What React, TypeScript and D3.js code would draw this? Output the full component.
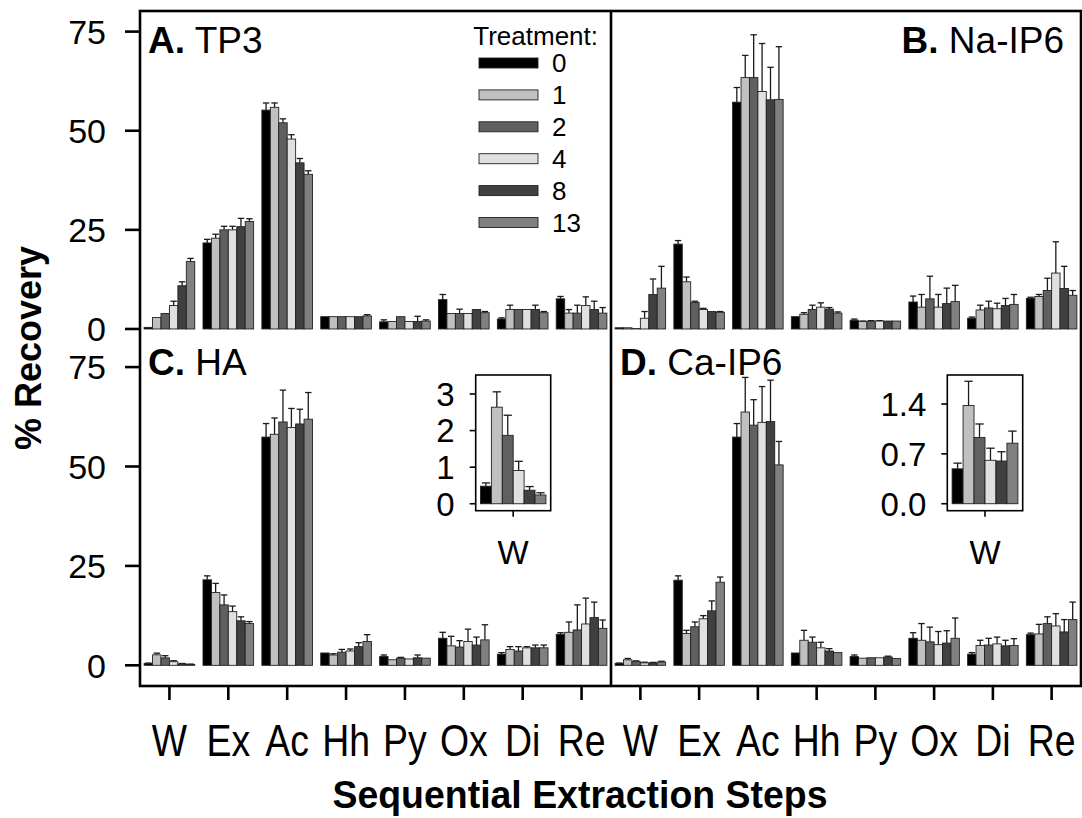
import React from 'react';
import * as d3 from 'd3';

// Extraction steps and treatment levels
const steps = ['W', 'Ex', 'Ac', 'Hh', 'Py', 'Ox', 'Di', 'Re'];
const treatments = ['0', '1', '2', '4', '8', '13'];
const treatmentFill = ['#000000', '#c0c0c0', '#606060', '#e0e0e0', '#404040', '#808080'];
const recoveryTicks = [0, 25, 50, 75];

// % recovery (mean) and upper error, rows = steps, columns = treatments
const tp3Mean = [
  [0.4, 2.9, 3.9, 5.9, 10.9, 17.0],
  [21.7, 22.9, 25.0, 25.0, 25.8, 27.1],
  [55.2, 55.9, 52.0, 47.9, 41.9, 39.0],
  [3.1, 3.1, 3.1, 3.1, 3.1, 3.3],
  [1.8, 1.9, 3.1, 1.9, 1.9, 2.0],
  [7.4, 3.9, 3.9, 3.9, 4.9, 4.1],
  [2.5, 4.9, 4.9, 4.9, 4.9, 4.1],
  [7.6, 4.0, 4.0, 5.9, 4.9, 4.0],
];
const tp3Err = [
  [0, 0, 0, 1.1, 1.0, 0.8],
  [0.9, 1.0, 0.9, 0.9, 2.1, 0.7],
  [1.8, 1.1, 1.0, 1.1, 1.1, 0.9],
  [0, 0, 0, 0, 0, 0.3],
  [0.5, 0, 0, 0, 1.3, 0.3],
  [1.3, 0, 1.1, 0, 0, 0.3],
  [0.3, 1.1, 0, 0, 1.1, 0.3],
  [0.6, 0.9, 2.0, 2.2, 2.1, 1.4],
];

const naMean = [
  [0.3, 0.3, 0.1, 2.7, 8.7, 10.3],
  [21.4, 11.9, 6.7, 4.9, 4.4, 4.2],
  [57.2, 63.4, 63.4, 59.9, 57.8, 57.9],
  [3.1, 3.7, 4.9, 5.5, 5.0, 4.0],
  [2.2, 1.9, 2.0, 2.0, 2.0, 2.0],
  [6.8, 5.5, 7.6, 5.5, 6.4, 6.9],
  [2.7, 4.8, 5.3, 5.1, 5.9, 6.2],
  [7.7, 8.2, 9.7, 14.1, 10.2, 8.5],
];
const naErr = [
  [0, 0, 0, 1.7, 3.9, 5.5],
  [0.9, 1.2, 0.3, 0.3, 0, 0.2],
  [3.7, 5.6, 10.8, 12.1, 8.2, 13.3],
  [0, 0.4, 1.1, 1.1, 0.4, 0.3],
  [0.3, 0.1, 0.1, 0.1, 0, 0],
  [1.5, 3.2, 5.7, 3.2, 3.9, 4.1],
  [0.3, 1.2, 1.7, 1.4, 1.8, 2.5],
  [0.3, 0.5, 3.1, 7.9, 5.6, 1.2],
];

const haMean = [
  [0.48, 2.64, 1.87, 0.91, 0.37, 0.24],
  [21.5, 18.3, 15.2, 13.5, 11.2, 10.5],
  [57.4, 58.1, 61.2, 59.8, 60.7, 61.9],
  [3.1, 2.6, 3.3, 3.6, 4.7, 6.0],
  [2.2, 1.4, 1.8, 1.6, 1.9, 1.8],
  [6.8, 4.9, 4.6, 6.0, 5.1, 6.4],
  [2.8, 4.0, 3.6, 4.4, 4.4, 4.4],
  [7.8, 8.3, 8.9, 10.4, 12.0, 9.3],
];
const haErr = [
  [0.09, 0.42, 0.55, 0.25, 0.1, 0.06],
  [1.0, 2.3, 2.5, 1.4, 1.0, 0.5],
  [3.4, 4.1, 8.0, 4.8, 3.7, 6.7],
  [0, 0.3, 0.7, 0.5, 1.0, 1.7],
  [0.4, 0, 0.2, 0, 0.7, 0],
  [1.5, 2.4, 1.6, 3.1, 2.0, 3.8],
  [0.4, 0.7, 1.1, 0.3, 0.7, 0.7],
  [0.4, 2.6, 6.3, 6.5, 3.9, 2.1],
];

const caMean = [
  [0.49, 1.38, 0.93, 0.61, 0.6, 0.85],
  [21.4, 8.0, 9.7, 11.7, 13.7, 20.9],
  [57.4, 63.7, 60.4, 61.1, 61.3, 50.4],
  [3.1, 6.3, 5.8, 4.4, 3.6, 3.2],
  [2.2, 1.8, 1.9, 1.9, 2.1, 1.7],
  [6.8, 6.3, 5.9, 5.2, 5.6, 6.8],
  [2.8, 5.0, 5.1, 5.4, 4.9, 5.0],
  [7.7, 7.9, 10.5, 9.9, 8.4, 11.5],
];
const caErr = [
  [0.08, 0.34, 0.19, 0.17, 0.13, 0.17],
  [1.1, 0.8, 1.2, 0.8, 2.5, 1.3],
  [3.4, 8.7, 6.4, 9.0, 10.4, 5.9],
  [0, 2.5, 1.3, 1.4, 0.6, 0],
  [0.4, 0, 0, 0, 0.2, 0],
  [1.4, 4.2, 3.7, 3.3, 3.1, 5.1],
  [0.4, 1.3, 1.7, 1.7, 1.4, 1.7],
  [0.4, 2.4, 1.7, 3.1, 3.1, 4.4],
];

// Inset axis ticks for the water (W) step
const haInsetTicks = [0, 1, 2, 3];
const caInsetTicks = [0, 0.7, 1.4];

const FONT = "'Liberation Sans', Arial, Helvetica, sans-serif";
const WIDTH = 1082;
const HEIGHT = 818;

const frame = { left: 140, right: 1081, top: 11, bottom: 686, mid: 611, midY: 348 };

type BarsProps = {
  x: d3.ScaleBand<string>;
  y: d3.ScaleLinear<number, number>;
  cats: string[];
  means: number[][];
  errs: number[][];
};

function Bars({ x, y, cats, means, errs }: BarsProps) {
  const inner = d3.scaleBand<string>().domain(treatments).range([0, x.bandwidth()]).padding(0);
  const bw = inner.bandwidth();
  const y0 = y(0);
  return (
    <g>
      {cats.map((c, ci) => (
        <g key={c} transform={`translate(${x(c)},0)`}>
          {treatments.map((t, ti) => {
            const m = means[ci][ti];
            const e = errs[ci][ti];
            const bx = inner(t) as number;
            const cx = bx + bw / 2;
            return (
              <g key={t}>
                {e > 0 && (
                  <g stroke="#1a1a1a" strokeWidth={1.3}>
                    <line x1={cx} x2={cx} y1={y(m)} y2={y(m + e)} />
                    <line x1={cx - bw * 0.38} x2={cx + bw * 0.38} y1={y(m + e)} y2={y(m + e)} />
                  </g>
                )}
                <rect
                  x={bx}
                  y={y(m)}
                  width={bw}
                  height={Math.max(0, y0 - y(m))}
                  fill={treatmentFill[ti]}
                  stroke="#222"
                  strokeWidth={0.9}
                />
              </g>
            );
          })}
        </g>
      ))}
    </g>
  );
}

type PanelProps = {
  x0: number;
  x1: number;
  y0: number;
  y1: number;
  yDomain: [number, number];
  means: number[][];
  errs: number[][];
};

function Panel({ x0, x1, y0, y1, yDomain, means, errs }: PanelProps) {
  const x = d3.scaleBand<string>().domain(steps).range([x0, x1]).paddingInner(0.14).paddingOuter(0.07);
  const y = d3.scaleLinear().domain(yDomain).range([y1, y0]);
  return <Bars x={x} y={y} cats={steps} means={means} errs={errs} />;
}

type InsetProps = {
  x0: number;
  x1: number;
  y0: number;
  y1: number;
  yDomain: [number, number];
  ticks: number[];
  fmt: (v: number) => string;
  means: number[];
  errs: number[];
};

function Inset({ x0, x1, y0, y1, yDomain, ticks, fmt, means, errs }: InsetProps) {
  const x = d3.scaleBand<string>().domain(['W']).range([x0, x1]).paddingInner(0).paddingOuter(0.073);
  const y = d3.scaleLinear().domain(yDomain).range([y1, y0]);
  const cx = (x('W') as number) + x.bandwidth() / 2;
  return (
    <g>
      <Bars x={x} y={y} cats={['W']} means={[means]} errs={[errs]} />
      <rect x={x0} y={y0} width={x1 - x0} height={y1 - y0} fill="none" stroke="#000" strokeWidth={1.6} />
      {ticks.map((t) => (
        <g key={t}>
          <line x1={x0 - 6} x2={x0} y1={y(t)} y2={y(t)} stroke="#000" strokeWidth={1.6} />
          <text x={x0 - 21} y={y(t)} dy="0.36em" textAnchor="end" fontSize={33} fontFamily={FONT}>
            {fmt(t)}
          </text>
        </g>
      ))}
      <line x1={cx} x2={cx} y1={y1} y2={y1 + 6} stroke="#000" strokeWidth={1.6} />
      <text x={cx} y={y1 + 53} textAnchor="middle" fontSize={33} fontFamily={FONT}>
        W
      </text>
    </g>
  );
}

function PanelTitle({ x, y, letter, name, anchor }: { x: number; y: number; letter: string; name: string; anchor: 'start' | 'end' }) {
  return (
    <text x={x} y={y} textAnchor={anchor} fontSize={37} fontFamily={FONT}>
      <tspan fontWeight="bold">{letter}</tspan>
      <tspan> {name}</tspan>
    </text>
  );
}

export default function App() {
  const topDomain: [number, number] = [-4.8, 80.2];
  const botDomain: [number, number] = [-5.2, 79.8];
  const yTop = d3.scaleLinear().domain(topDomain).range([frame.midY, frame.top]);
  const yBot = d3.scaleLinear().domain(botDomain).range([frame.bottom, frame.midY]);

  const xLeft = d3.scaleBand<string>().domain(steps).range([frame.left, frame.mid]).paddingInner(0.14).paddingOuter(0.07);
  const xRight = d3.scaleBand<string>().domain(steps).range([frame.mid, frame.right]).paddingInner(0.14).paddingOuter(0.07);
  const centers = [
    ...steps.map((s) => ({ key: 'L' + s, s, cx: (xLeft(s) as number) + xLeft.bandwidth() / 2 })),
    ...steps.map((s) => ({ key: 'R' + s, s, cx: (xRight(s) as number) + xRight.bandwidth() / 2 })),
  ];

  const legendX = 479;
  const legendTop = 63;
  const legendStep = 31.9;

  return (
    <svg
      width={WIDTH}
      height={HEIGHT}
      viewBox={`0 0 ${WIDTH} ${HEIGHT}`}
      style={{ position: 'absolute', left: 0, top: 0, background: '#fff', display: 'block' }}
      fontFamily={FONT}
    >
      <rect x={0} y={0} width={WIDTH} height={HEIGHT} fill="#fff" />

      {/* four panels */}
      <Panel x0={frame.left} x1={frame.mid} y0={frame.top} y1={frame.midY} yDomain={topDomain} means={tp3Mean} errs={tp3Err} />
      <Panel x0={frame.mid} x1={frame.right} y0={frame.top} y1={frame.midY} yDomain={topDomain} means={naMean} errs={naErr} />
      <Panel x0={frame.left} x1={frame.mid} y0={frame.midY} y1={frame.bottom} yDomain={botDomain} means={haMean} errs={haErr} />
      <Panel x0={frame.mid} x1={frame.right} y0={frame.midY} y1={frame.bottom} yDomain={botDomain} means={caMean} errs={caErr} />

      {/* frame */}
      <rect
        x={frame.left}
        y={frame.top}
        width={frame.right - frame.left}
        height={frame.bottom - frame.top}
        fill="none"
        stroke="#000"
        strokeWidth={2.6}
      />
      <line x1={frame.mid} x2={frame.mid} y1={frame.top} y2={frame.bottom} stroke="#000" strokeWidth={2.6} />

      {/* y axes */}
      {[yTop, yBot].map((y, i) => (
        <g key={i}>
          {recoveryTicks.map((t) => (
            <g key={t}>
              <line x1={frame.left - 15} x2={frame.left} y1={y(t)} y2={y(t)} stroke="#000" strokeWidth={2.6} />
              <text x={frame.left - 34} y={y(t)} dy="0.36em" textAnchor="end" fontSize={34}>
                {t}
              </text>
            </g>
          ))}
        </g>
      ))}

      {/* x axis */}
      {centers.map((c) => (
        <g key={c.key}>
          <line x1={c.cx} x2={c.cx} y1={frame.bottom} y2={frame.bottom + 14} stroke="#000" strokeWidth={2.6} />
          <text transform={`translate(${c.cx},756) scale(0.85,1)`} textAnchor="middle" fontSize={44}>
            {c.s}
          </text>
        </g>
      ))}

      <text transform="translate(580,808) scale(0.96,1)" textAnchor="middle" fontSize={39} fontWeight="bold">
        Sequential Extraction Steps
      </text>
      <text transform="translate(41,348) rotate(-90)" textAnchor="middle" fontSize={36} fontWeight="bold">
        % Recovery
      </text>

      {/* panel titles */}
      <PanelTitle x={148} y={53} letter="A." name="TP3" anchor="start" />
      <PanelTitle x={1064} y={53} letter="B." name="Na-IP6" anchor="end" />
      <PanelTitle x={148} y={375} letter="C." name="HA" anchor="start" />
      <PanelTitle x={620} y={375} letter="D." name="Ca-IP6" anchor="start" />

      {/* legend */}
      <text x={598} y={45} textAnchor="end" fontSize={26}>
        Treatment:
      </text>
      {treatments.map((t, i) => {
        const cy = legendTop + i * legendStep;
        return (
          <g key={t}>
            <rect x={legendX} y={cy - 5} width={59} height={10} fill={treatmentFill[i]} stroke="#222" strokeWidth={0.9} />
            <text x={552} y={cy} dy="0.36em" fontSize={26}>
              {t}
            </text>
          </g>
        );
      })}

      {/* water-step insets */}
      <Inset
        x0={475.7}
        x1={550.7}
        y0={375}
        y1={510.7}
        yDomain={[-0.19, 3.52]}
        ticks={haInsetTicks}
        fmt={(v) => String(v)}
        means={haMean[0]}
        errs={haErr[0]}
      />
      <Inset
        x0={947.3}
        x1={1022.7}
        y0={375}
        y1={510.7}
        yDomain={[-0.098, 1.808]}
        ticks={caInsetTicks}
        fmt={(v) => v.toFixed(1)}
        means={caMean[0]}
        errs={caErr[0]}
      />
    </svg>
  );
}
